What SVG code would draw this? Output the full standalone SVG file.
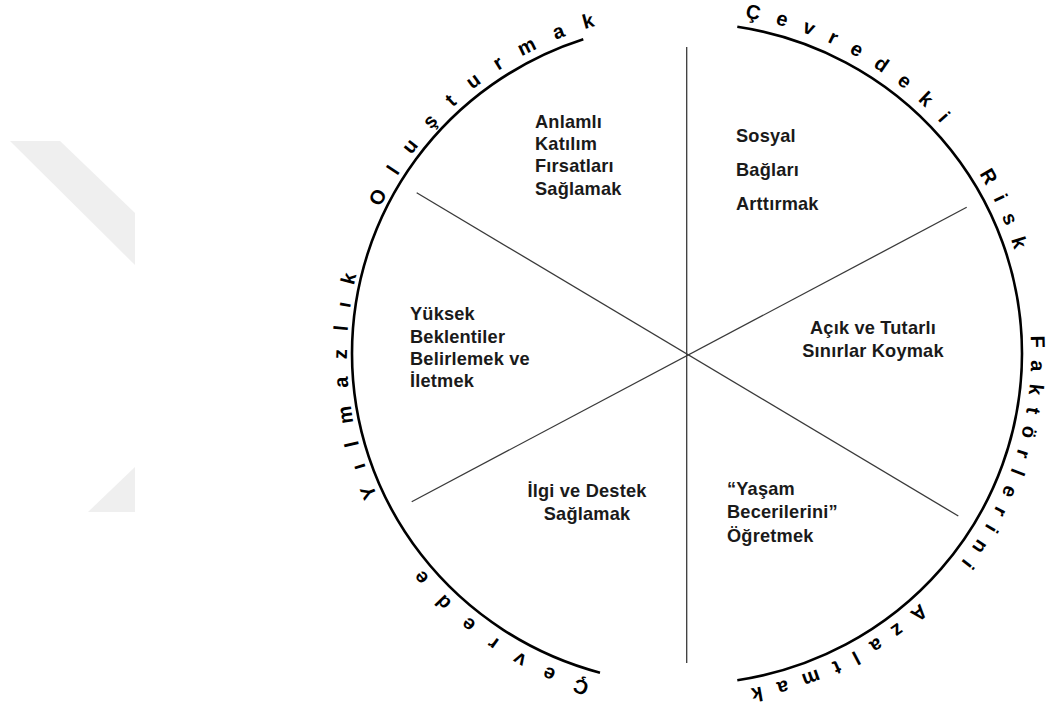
<svg xmlns="http://www.w3.org/2000/svg" width="1049" height="709" viewBox="0 0 1049 709">
<style>
.lbl{font-family:"Liberation Sans",Arial,Helvetica,sans-serif;font-weight:bold;font-size:18.2px;letter-spacing:0.2px;fill:#1a1a1a}
.ctr{text-anchor:middle}
.ring{font-family:"Liberation Sans",Arial,Helvetica,sans-serif;font-weight:bold;font-size:20px;fill:#000;text-anchor:middle}
.div{stroke:#3a3a3a;stroke-width:1.3;fill:none}
.arc{stroke:#000;stroke-width:2.6;fill:none}
.wm{fill:#efefef}
</style>
<defs>
<path id="ringpath" d="M 689,13 A 342,342 0 1 1 689,697 A 342,342 0 1 1 689,13"/>
<path id="ringpath2" d="M 689,16 A 339,339 0 1 1 689,694 A 339,339 0 1 1 689,16"/>
</defs>
<rect width="1049" height="709" fill="#fff"/>
<g id="watermark">
<polygon class="wm" points="10,141 60,141 135,213 135,265"/>
<polygon class="wm" points="135,467 135,512 88,512"/>
</g>
<g id="circle">
<path class="arc" d="M 600,672.66 A 335,330.5 0 0 1 352,353.5 A 335,330.5 0 0 1 583.3,39.23"/>
<path class="arc" d="M 737.3,26.74 A 335,330.5 0 0 1 1022,353.5 A 335,330.5 0 0 1 737.3,680.26"/>
</g>
<g id="connectors">
<line class="div" x1="686.7" y1="47" x2="686.7" y2="663"/>
<line class="div" x1="416.7" y1="192.7" x2="958.3" y2="516"/>
<line class="div" x1="411.7" y1="501.7" x2="966.7" y2="207.3"/>
</g>
<g id="ring-left">
<text class="ring" style="letter-spacing:21px"><textPath href="#ringpath" startOffset="1287.2">Çevrede</textPath></text>
<text class="ring" style="letter-spacing:17.6px"><textPath href="#ringpath" startOffset="1587.6">Yılmazlık</textPath></text>
<text class="ring" style="letter-spacing:19.8px"><textPath href="#ringpath" startOffset="1918.2">Oluşturmak</textPath></text>
</g>
<g id="ring-right">
<text class="ring" style="letter-spacing:16.4px"><textPath href="#ringpath" startOffset="177.7">Çevredeki</textPath></text>
<text class="ring" style="letter-spacing:14px"><textPath href="#ringpath" startOffset="395">Risk</textPath></text>
<text class="ring" style="letter-spacing:12.1px"><textPath href="#ringpath" startOffset="644.8">Faktörlerini</textPath></text>
<text class="ring" style="letter-spacing:14.9px"><textPath href="#ringpath2" startOffset="914">Azaltmak</textPath></text>
</g>
<g id="node-anlamli">
<text class="lbl"><tspan x="535" y="127.5">Anlamlı</tspan><tspan x="535" y="149.5">Katılım</tspan><tspan x="535" y="172">Fırsatları</tspan><tspan x="535" y="195">Sağlamak</tspan></text>
</g>
<g id="node-sosyal">
<text class="lbl"><tspan x="736" y="141.5">Sosyal</tspan><tspan x="736" y="176">Bağları</tspan><tspan x="736" y="210">Arttırmak</tspan></text>
</g>
<g id="node-yuksek">
<text class="lbl"><tspan x="410" y="320">Yüksek</tspan><tspan x="410" y="342.5">Beklentiler</tspan><tspan x="410" y="364.5">Belirlemek ve</tspan><tspan x="410" y="386.5">İletmek</tspan></text>
</g>
<g id="node-acik">
<text class="lbl ctr"><tspan x="873" y="334">Açık ve Tutarlı</tspan><tspan x="873" y="357">Sınırlar Koymak</tspan></text>
</g>
<g id="node-ilgi">
<text class="lbl ctr"><tspan x="587" y="497">İlgi ve Destek</tspan><tspan x="587" y="519.5">Sağlamak</tspan></text>
</g>
<g id="node-yasam">
<text class="lbl"><tspan x="727" y="495">“Yaşam</tspan><tspan x="727" y="518.3">Becerilerini”</tspan><tspan x="727" y="541.7">Öğretmek</tspan></text>
</g>
</svg>
